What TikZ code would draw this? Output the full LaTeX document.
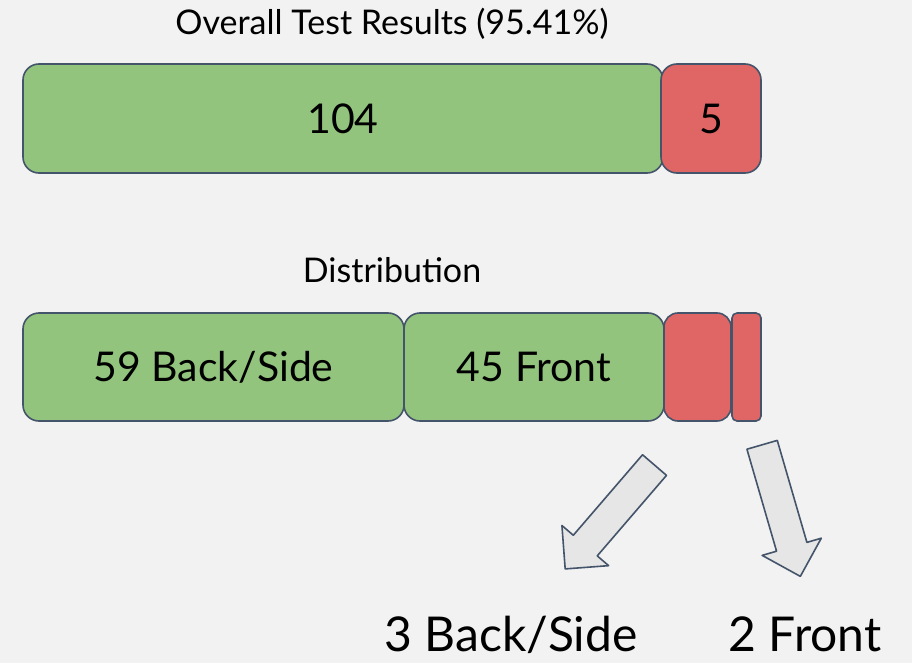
\documentclass[tikz,border=0pt]{standalone}
\usepackage{fontspec}
\setmainfont{Lato}
\usetikzlibrary{shapes.arrows}
\definecolor{bgGray}{RGB}{242, 242, 242}
\definecolor{passGreen}{RGB}{147, 196, 125}
\definecolor{failRed}{RGB}{224, 102, 102}
\definecolor{edgeSlate}{RGB}{68, 84, 106}
\definecolor{arrowGray}{RGB}{230, 230, 230}

\begin{document}
\begin{tikzpicture}[x=1pt, y=-1pt, line join=round,
    seg/.style={draw=edgeSlate, line width=1.6pt, rounded corners=16pt, inner sep=0pt, font=\fontsize{41}{41}\selectfont},
    bigarrow/.style={single arrow, draw=edgeSlate, fill=arrowGray, line width=1.6pt, inner sep=15pt, single arrow head extend=15pt, single arrow tip angle=90, minimum height=137pt},
    caption/.style={font=\fontsize{34}{34}\selectfont, anchor=base}]
        \useasboundingbox (0,0) rectangle (912,663);
        \fill[bgGray] (0,0) rectangle (912,663);
        % overall bar
        \node[caption] (title) at (392,35) {Overall Test Results (95.41\%)};
        \node[seg, fill=passGreen, minimum width=640pt, minimum height=109pt] (pass) at (343,118.5) {104};
        \node[seg, fill=failRed, minimum width=100pt, minimum height=109pt] (fail) at (711,118.5) {5};
        % distribution bar
        \node[caption] (dist) at (392,282) {Distribution};
        \node[seg, fill=passGreen, minimum width=381pt, minimum height=108pt] (passback) at (213.5,367) {59 Back/Side};
        \node[seg, fill=passGreen, minimum width=260pt, minimum height=108pt] (passfront) at (534,367) {45 Front};
        \node[seg, fill=failRed, minimum width=67pt, minimum height=108pt, rounded corners=14pt] (failback) at (697.5,367) {};
        \node[seg, fill=failRed, minimum width=29pt, minimum height=108pt, rounded corners=5pt] (failfront) at (746.5,367) {};
        % arrows to the failures
        \node[bigarrow, rotate=229.3] (arrback) at (615,511) {};
        \node[bigarrow, rotate=286.2] (arrfront) at (779,503) {};
        \node[font=\fontsize{48}{48}\selectfont, anchor=base] (backlbl) at (511,651) {3 Back/Side};
        \node[font=\fontsize{48}{48}\selectfont, anchor=base] (frontlbl) at (805,651) {2 Front};
    \end{tikzpicture}
\end{document}
